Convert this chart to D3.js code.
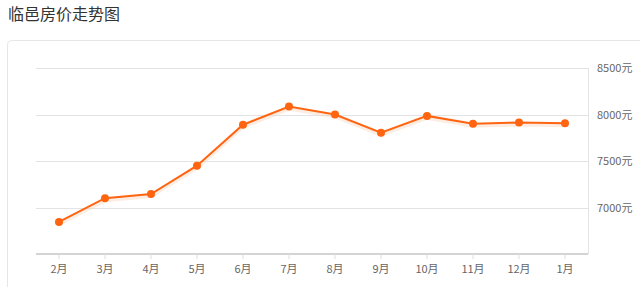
<!DOCTYPE html>
<html><head><meta charset="utf-8">
<script src="https://cdn.jsdelivr.net/npm/d3@7"></script>
<style>
html,body{margin:0;padding:0;background:#fff;overflow:hidden}
svg{display:block;font-family:"Noto Sans CJK SC","Noto Sans",sans-serif}
</style></head><body>
<svg id="c" width="640" height="287"></svg>
<script>
const title = "临邑房价走势图";
const months = ["2月","3月","4月","5月","6月","7月","8月","9月","10月","11月","12月","1月"];
const prices = [6845, 7100, 7145, 7450, 7890, 8085, 8000, 7805, 7985, 7900, 7915, 7905];
const yTicks = [7000, 7500, 8000, 8500];
const yUnit = "元";

(function () {
const svg = d3.select("#c");
svg.append("text").attr("x", 8).attr("y", 20).attr("font-size", 16).attr("fill", "#333").text(title);

svg.append("rect").attr("x", 7.5).attr("y", 40.5).attr("width", 660).attr("height", 300)
  .attr("rx", 4).attr("fill", "#fff").attr("stroke", "#e6e6e6");

const pl = 36, pr = 588, pt = 68, pb = 254;
const x = d3.scaleBand().domain(months).range([pl, pr]);
const y = d3.scaleLinear().domain([6500, 8500]).range([pb, pt]);

// grid
svg.append("g").selectAll("line").data(yTicks).join("line")
  .attr("x1", pl).attr("x2", pr)
  .attr("y1", d => Math.round(y(d)) + 0.5).attr("y2", d => Math.round(y(d)) + 0.5)
  .attr("stroke", "#e3e3e3");
svg.append("line").attr("x1", pr + 0.5).attr("x2", pr + 0.5).attr("y1", pt).attr("y2", pb)
  .attr("stroke", "#e3e3e3");

// right axis labels
const ya = svg.append("g").attr("transform", `translate(${pr},0)`)
  .call(d3.axisRight(y).tickValues(yTicks).tickSize(0).tickPadding(9).tickFormat(d => d + yUnit));
ya.select(".domain").remove();
ya.selectAll("text").attr("font-size", 11).attr("fill", "#666").attr("font-family", "'Noto Sans CJK SC',sans-serif");

// bottom axis
const xa = svg.append("g").attr("transform", `translate(0,${pb})`)
  .call(d3.axisBottom(x).tickSize(5).tickPadding(6));
xa.select(".domain").attr("stroke", "#d4d4d4").attr("stroke-width", 2).attr("d", `M${pl},0H${pr}`);
xa.selectAll(".tick line").attr("stroke", "#ddd");
xa.selectAll("text").attr("font-size", 11).attr("fill", "#666").attr("font-family", "'Noto Sans CJK SC',sans-serif");

const line = d3.line().x((d, i) => x(months[i]) + x.bandwidth() / 2).y(d => y(d));
svg.append("path").datum(prices).attr("d", line).attr("fill", "none")
  .attr("stroke", "#f5cbb0").attr("stroke-width", 4).attr("opacity", 0.35).attr("transform", "translate(0,2)");
svg.append("path").datum(prices).attr("d", line).attr("fill", "none")
  .attr("stroke", "#ff6410").attr("stroke-width", 2);
svg.append("g").selectAll("circle").data(prices).join("circle")
  .attr("cx", (d, i) => x(months[i]) + x.bandwidth() / 2).attr("cy", d => y(d))
  .attr("r", 4).attr("fill", "#ff6410");
})();
</script></body></html>
